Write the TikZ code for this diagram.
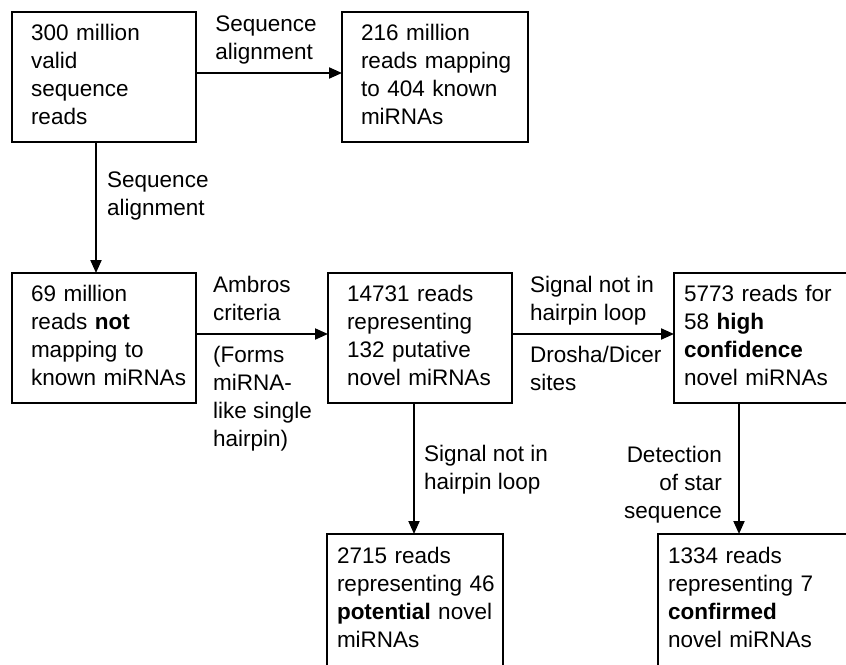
\documentclass[tikz,border=0pt]{standalone}
\usepackage{fontspec}
\setmainfont{Liberation Sans}
\usetikzlibrary{arrows.meta}
\newcommand\boxlines[1]{\begin{tabular}{@{}l@{}}#1\end{tabular}}
\begin{document}
\begin{tikzpicture}[x=1pt,y=-1pt,
  txt/.style={font=\fontsize{22.5}{28}\selectfont},
  box/.style={txt, draw, line width=2.6pt, outer sep=0pt, anchor=north west,
    align=left, inner xsep=19pt, inner ysep=0pt, minimum height=130pt},
  tightbox/.style={box, inner xsep=10pt},
  lbl/.style={txt, align=left, inner sep=0pt},
  arr/.style={line width=2pt, -{Triangle[length=13pt,width=11pt]}}]
\useasboundingbox (0,0) rectangle (846,664);
\clip (0,0) rectangle (846,664);
% boxes
\node[box, text width=146pt] (b1) at (12,12) {\boxlines{300 million\\valid\\sequence\\reads}};
\node[box, text width=148pt] (b2) at (342,12) {\boxlines{216 million\\reads mapping\\to 404 known\\miRNAs}};
\node[box, text width=146pt] (b3) at (12,273) {\boxlines{69 million\\reads \textbf{not}\\mapping to\\known miRNAs}};
\node[box, text width=146pt] (b4) at (328,273) {\boxlines{14731 reads\\representing\\132 putative\\novel miRNAs}};
\node[tightbox, text width=200pt] (b5) at (674,273) {\boxlines{5773 reads for\\58 \textbf{high}\\\textbf{confidence}\\novel miRNAs}};
\node[tightbox, text width=156pt, minimum height=132pt] (b6) at (327,534) {\boxlines{2715 reads\\representing 46\\\textbf{potential} novel\\miRNAs}};
\node[tightbox, text width=200pt, minimum height=132pt] (b7) at (658,534) {\boxlines{1334 reads\\representing 7\\\textbf{confirmed}\\novel miRNAs}};
% connector positions
\coordinate (r1) at (0,73);
\coordinate (r2) at (0,334);
\coordinate (c13) at (96,0);
\coordinate (c46) at (414,0);
\coordinate (c57) at (739,0);
% connectors
\draw[arr] (b1.east |- r1) -- (b2.west |- r1);
\draw[arr] (b1.south -| c13) -- (b3.north -| c13);
\draw[arr] (b3.east |- r2) -- (b4.west |- r2);
\draw[arr] (b4.east |- r2) -- (b5.west |- r2);
\draw[arr] (b4.south -| c46) -- (b6.north -| c46);
\draw[arr] (b5.south -| c57) -- (b7.north -| c57);
% labels
\node[lbl, anchor=north] (l12) at (266,16) {Sequence\\alignment};
\node[lbl, anchor=north west] (l13) at (107,172) {Sequence\\alignment};
\node[lbl, anchor=north west] (l34a) at (213,276) {Ambros\\criteria};
\node[lbl, anchor=north west] (l34b) at (213,346) {(Forms\\miRNA-\\like single\\hairpin)};
\node[lbl, anchor=north west] (l45a) at (530,276) {Signal not in\\hairpin loop};
\node[lbl, anchor=north west] (l45b) at (530,346) {Drosha/Dicer\\sites};
\node[lbl, anchor=north west] (l46) at (424,445) {Signal not in\\hairpin loop};
\node[lbl, align=right, anchor=north east] (l57) at (722,446) {Detection\\of star\\sequence};
\end{tikzpicture}
\end{document}
